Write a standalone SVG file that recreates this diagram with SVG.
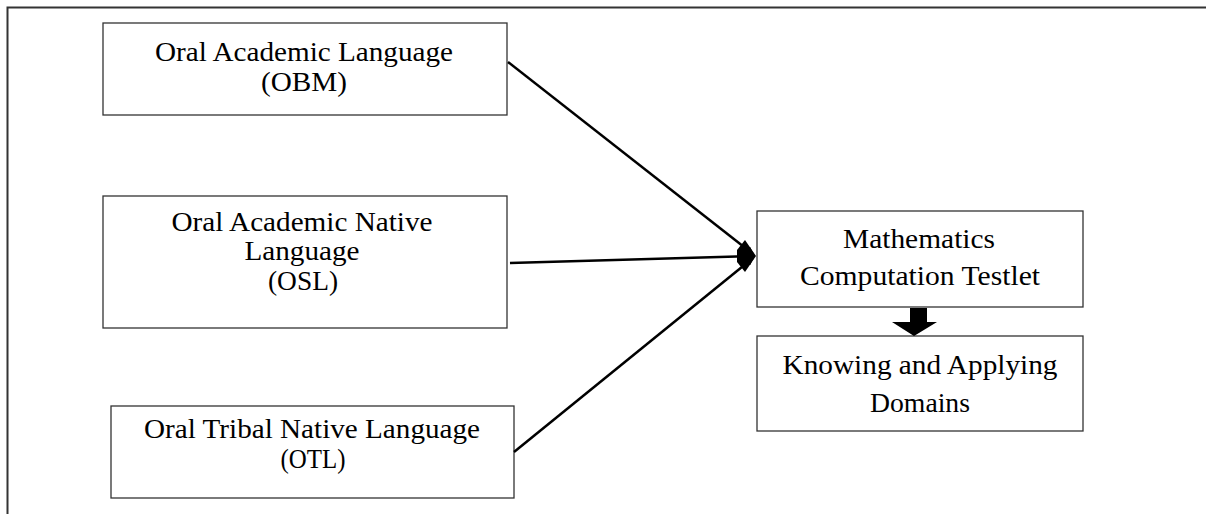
<svg xmlns="http://www.w3.org/2000/svg" width="1206" height="514" viewBox="0 0 1206 514">
<style>
.box{fill:#fff;stroke:#333;stroke-width:1.3}
.t{font-family:"Liberation Serif","Times New Roman",serif;font-size:28px;fill:#000;text-anchor:middle}
.c{stroke:#000;stroke-width:2.5;fill:none}
</style>
<defs>
<marker id="ah" markerWidth="8" markerHeight="8" refX="7" refY="4" orient="auto" markerUnits="userSpaceOnUse" viewBox="0 0 8 8">
<path d="M0,0 L8,4 L0,8 Z" fill="#000"/>
</marker>
</defs>
<rect width="1206" height="514" fill="#fff"/>
<path d="M7.5,514 V7.5 H1206" fill="none" stroke="#333" stroke-width="2"/>
<g id="n1"><rect class="box" x="103" y="23" width="404" height="92"/>
<text class="t" x="304" y="61" textLength="298" lengthAdjust="spacingAndGlyphs">Oral Academic Language</text>
<text class="t" x="304" y="91" textLength="86" lengthAdjust="spacingAndGlyphs">(OBM)</text></g>
<g id="n2"><rect class="box" x="103" y="196" width="404" height="132"/>
<text class="t" x="302" y="231" textLength="261" lengthAdjust="spacingAndGlyphs">Oral Academic Native</text>
<text class="t" x="302" y="260" textLength="115" lengthAdjust="spacingAndGlyphs">Language</text>
<text class="t" x="303" y="290" textLength="70" lengthAdjust="spacingAndGlyphs">(OSL)</text></g>
<g id="n3"><rect class="box" x="111" y="406" width="403" height="92"/>
<text class="t" x="312" y="438" textLength="336" lengthAdjust="spacingAndGlyphs">Oral Tribal Native Language</text>
<text class="t" x="313" y="468" textLength="65" lengthAdjust="spacingAndGlyphs">(OTL)</text></g>
<g id="n4"><rect class="box" x="757" y="211" width="326" height="96"/>
<text class="t" x="919" y="248" textLength="152" lengthAdjust="spacingAndGlyphs">Mathematics</text>
<text class="t" x="920" y="285" textLength="240" lengthAdjust="spacingAndGlyphs">Computation Testlet</text></g>
<g id="n5"><rect class="box" x="757" y="336" width="326" height="95"/>
<text class="t" x="920" y="374" textLength="275" lengthAdjust="spacingAndGlyphs">Knowing and Applying</text>
<text class="t" x="920" y="412" textLength="100" lengthAdjust="spacingAndGlyphs">Domains</text></g>
<g id="connectors">
<path class="c" d="M508,62 L753,254" marker-end="url(#ah)"/>
<path class="c" d="M510,263 L754,256" marker-end="url(#ah)"/>
<path class="c" d="M514,452 L753,258" marker-end="url(#ah)"/>
<path d="M745,240 L756,256 L745,272 L737,262 L737,250 Z" fill="#000"/>
<path d="M910,308 H927 V322 H937 L914,336 L892,322 H910 Z" fill="#000"/>
</g>
</svg>
